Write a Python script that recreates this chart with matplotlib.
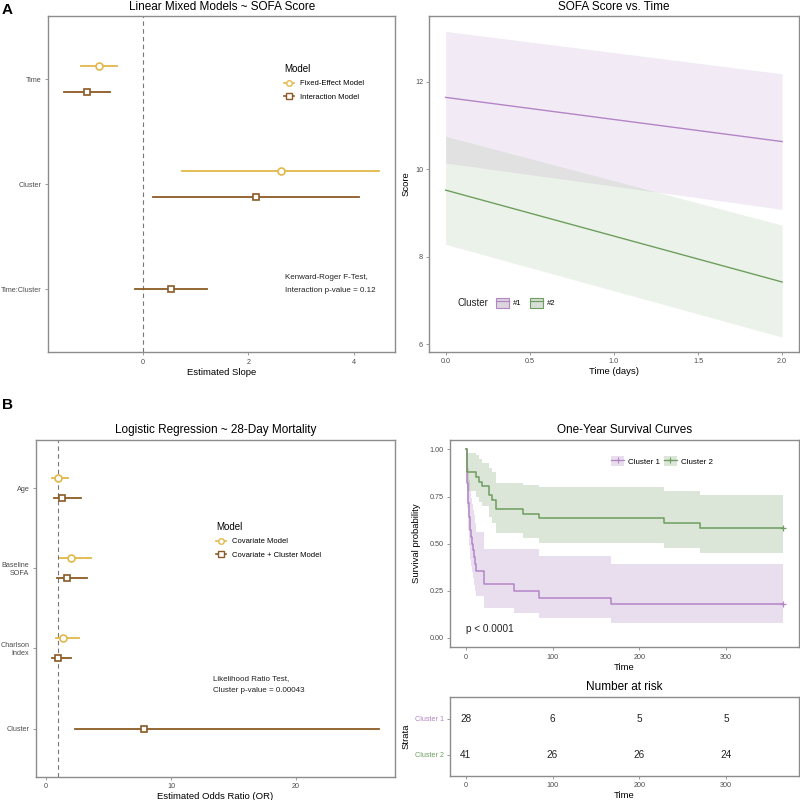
import numpy as np
import matplotlib
matplotlib.use("Agg")
import matplotlib.pyplot as plt
from matplotlib.lines import Line2D
from matplotlib.patches import Patch

plt.rcParams['font.family'] = ['Liberation Sans', 'DejaVu Sans']

# ---- data ----
# A left: linear mixed models (estimate, lower, upper)
lmm_terms = ["Time", "Cluster", "Time:Cluster"]
lmm_fixed_est = [-0.83, 2.61, None]
lmm_fixed_lo = [-1.17, 0.75, None]
lmm_fixed_hi = [-0.49, 4.47, None]
lmm_inter_est = [-1.05, 2.14, 0.535]
lmm_inter_lo = [-1.48, 0.19, -0.15]
lmm_inter_hi = [-0.62, 4.09, 1.22]

# A right: predicted SOFA score vs time
sofa_time = [0.0, 2.0]
c1_fit = [11.64, 10.63]
c1_lo = [10.14, 9.08]
c1_hi = [13.15, 12.18]
c2_fit = [9.52, 7.42]
c2_lo = [8.28, 6.16]
c2_hi = [10.75, 8.72]

# B left: logistic regression odds ratios
lr_terms = ["Age", "Baseline\nSOFA", "Charlson\nIndex", "Cluster"]
lr_cov_est = [0.93, 2.0, 1.39, None]
lr_cov_lo = [0.5, 1.12, 0.77, None]
lr_cov_hi = [1.79, 3.63, 2.64, None]
lr_cc_est = [1.31, 1.68, 0.96, 7.87]
lr_cc_lo = [0.64, 0.91, 0.51, 2.35]
lr_cc_hi = [2.77, 3.25, 1.97, 26.6]

# B right: Kaplan-Meier curves
t_end = 366
km1_t = [0, 1, 2, 3, 4, 5, 6, 7, 8, 9, 10, 12, 21, 55, 84, 167]
km1_s = [1.0, 0.821, 0.786, 0.714, 0.643, 0.571, 0.536, 0.5, 0.464, 0.429, 0.393, 0.357, 0.286, 0.25, 0.214, 0.179]
km1_hi = [1.0, 0.98, 0.96, 0.90, 0.84, 0.78, 0.74, 0.71, 0.68, 0.65, 0.61, 0.56, 0.47, 0.47, 0.435, 0.393]
km1_lo = [1.0, 0.69, 0.65, 0.57, 0.49, 0.42, 0.38, 0.35, 0.32, 0.28, 0.25, 0.22, 0.16, 0.13, 0.105, 0.08]
km2_t = [0, 1, 12, 15, 19, 27, 30, 35, 66, 84, 228, 270]
km2_s = [1.0, 0.878, 0.854, 0.829, 0.805, 0.756, 0.732, 0.683, 0.659, 0.634, 0.610, 0.585]
km2_hi = [1.0, 0.98, 0.97, 0.95, 0.93, 0.90, 0.88, 0.82, 0.81, 0.80, 0.78, 0.76]
km2_lo = [1.0, 0.78, 0.75, 0.72, 0.70, 0.64, 0.61, 0.555, 0.53, 0.503, 0.476, 0.453]

risk_times = [0, 100, 200, 300]
risk_c1 = [28, 6, 5, 5]
risk_c2 = [41, 26, 26, 24]

# ---- style ----
gold = "#E2B84A"
brown = "#8B5A24"
purple = "#B384C6"
green = "#6E9E5E"
frame = "#8C8C8C"
tickc = "#4D4D4D"

fig = plt.figure(figsize=(8, 8), dpi=100)


def box(l, t, r, b):
    return [l / 800, 1 - b / 800, (r - l) / 800, (b - t) / 800]


def style(ax):
    for s in ax.spines.values():
        s.set_color(frame)
        s.set_linewidth(1.0)
    ax.tick_params(direction="out", length=2.5, width=0.6, color=frame,
                   labelcolor=tickc, labelsize=5.2, pad=2)


def forest(ax, y, est_a, lo_a, hi_a, est_b, lo_b, hi_b):
    # two models dodged around each row; a row with one model sits on the tick
    for yy, ea, la, ha, eb, lb, hb in zip(y, est_a, lo_a, hi_a, est_b, lo_b, hi_b):
        both = ea is not None and eb is not None
        for e, l, h, c, m, off in [(ea, la, ha, gold, "o", 0.125),
                                   (eb, lb, hb, brown, "s", -0.125)]:
            if e is None:
                continue
            yv = yy + (off if both else 0)
            ax.plot([l, h], [yv, yv], color=c, lw=1.3, zorder=2)
            ax.plot([e], [yv], marker=m, ms=5, mfc="white", mec=c,
                    mew=1.2, zorder=3, ls="none")


# ---- A left ----
ax1 = fig.add_axes(box(48.3, 16, 395, 352.3))
style(ax1)
ypos = np.arange(len(lmm_terms))[::-1] + 1.0
ax1.axvline(0, color="#777777", lw=0.8, ls=(0, (4, 3)), zorder=1)
forest(ax1, ypos, lmm_fixed_est, lmm_fixed_lo, lmm_fixed_hi,
       lmm_inter_est, lmm_inter_lo, lmm_inter_hi)
ax1.set_xlim(-1.78, 4.77)
ax1.set_ylim(0.4, 3.6)
ax1.set_yticks(ypos)
ax1.set_yticklabels(lmm_terms)
ax1.set_xticks([0, 2, 4])
ax1.set_xlabel("Estimated Slope", fontsize=6.8, labelpad=1.5)
ax1.set_title("Linear Mixed Models ~ SOFA Score", fontsize=8.5, pad=4)
h1 = [Line2D([], [], color=gold, lw=1.2, marker="o", ms=4, mfc="white", mew=1),
      Line2D([], [], color=brown, lw=1.2, marker="s", ms=4, mfc="white", mew=1)]
lg = ax1.legend(h1, ["Fixed-Effect Model", "Interaction Model"], loc="upper left",
                bbox_to_anchor=(277.5 / 800, 1 - 57.5 / 800), bbox_transform=fig.transFigure,
                frameon=False, title="Model", fontsize=5.5, title_fontsize=7,
                handlelength=1.3, handletextpad=0.8, labelspacing=0.75)
lg._legend_box.align = "left"
fig.text(285 / 800, 1 - 278 / 800, "Kenward-Roger F-Test,", fontsize=5.8, va="center",
         color="#222222")
fig.text(285 / 800, 1 - 290.5 / 800, "Interaction p-value = 0.12", fontsize=5.8,
         va="center", color="#222222")
fig.text(2 / 800, 1 - 10 / 800, "A", fontsize=11, fontweight="bold", va="center")

# ---- A right ----
ax2 = fig.add_axes(box(429.3, 16, 799, 352))
style(ax2)
ax2.fill_between(sofa_time, c1_lo, c1_hi, color="#9C6BB3", alpha=0.13, lw=0)
ax2.fill_between(sofa_time, c2_lo, c2_hi, color="#6A9E58", alpha=0.13, lw=0)
ax2.plot(sofa_time, c1_fit, color=purple, lw=1.0)
ax2.plot(sofa_time, c2_fit, color=green, lw=1.0)
ax2.set_xlim(-0.097, 2.1)
ax2.set_ylim(5.82, 13.5)
ax2.set_xticks([0.0, 0.5, 1.0, 1.5, 2.0])
ax2.set_yticks([6, 8, 10, 12])
ax2.set_xlabel("Time (days)", fontsize=6.8, labelpad=1.5)
ax2.set_ylabel("Score", fontsize=6.8, labelpad=3)
ax2.set_title("SOFA Score vs. Time", fontsize=8.5, pad=4)
h2 = [(Patch(facecolor=(0.86, 0.84, 0.87), edgecolor=purple, lw=0.8),
       Line2D([], [], color=purple, lw=0.9)),
      (Patch(facecolor=(0.85, 0.87, 0.85), edgecolor=green, lw=0.8),
       Line2D([], [], color=green, lw=0.9))]
fig.text(457 / 800, 1 - 302.7 / 800, "Cluster", fontsize=7, va="center", color="#222222")
ax2.legend(h2, ["#1", "#2"], loc="center left", ncol=2,
           bbox_to_anchor=(489 / 800, 1 - 302.7 / 800), bbox_transform=fig.transFigure,
           frameon=False, fontsize=5.5, handlelength=1.7, handleheight=1.6,
           handletextpad=0.6, columnspacing=1.0)

# ---- B left ----
ax3 = fig.add_axes(box(35.7, 440, 395, 776.7))
style(ax3)
ypos3 = np.arange(len(lr_terms))[::-1] + 1.0
ax3.axvline(1, color="#777777", lw=0.8, ls=(0, (4, 3)), zorder=1)
forest(ax3, ypos3, lr_cov_est, lr_cov_lo, lr_cov_hi, lr_cc_est, lr_cc_lo, lr_cc_hi)
ax3.set_xlim(-0.82, 27.9)
ax3.set_ylim(0.4, 4.6)
ax3.set_yticks(ypos3)
ax3.set_yticklabels(lr_terms, ha="right")
ax3.set_xticks([0, 10, 20])
ax3.set_xlabel("Estimated Odds Ratio (OR)", fontsize=6.8, labelpad=1.5)
ax3.set_title("Logistic Regression ~ 28-Day Mortality", fontsize=8.5, pad=5)
lg3 = ax3.legend(h1, ["Covariate Model", "Covariate + Cluster Model"], loc="upper left",
                 bbox_to_anchor=(209.5 / 800, 1 - 515.5 / 800), bbox_transform=fig.transFigure,
                 frameon=False, title="Model", fontsize=5.5, title_fontsize=7,
                 handlelength=1.3, handletextpad=0.8, labelspacing=0.75)
lg3._legend_box.align = "left"
fig.text(212.7 / 800, 1 - 678.7 / 800, "Likelihood Ratio Test,", fontsize=5.8,
         va="center", color="#222222")
fig.text(212.7 / 800, 1 - 690.7 / 800, "Cluster p-value = 0.00043", fontsize=5.8,
         va="center", color="#222222")
fig.text(2 / 800, 1 - 405 / 800, "B", fontsize=11, fontweight="bold", va="center")

# ---- B right: survival ----
ax4 = fig.add_axes(box(450, 440, 799, 647.3))
style(ax4)
for t, s, lo, hi, c, fc in [(km1_t, km1_s, km1_lo, km1_hi, purple, "#9C6BB3"),
                            (km2_t, km2_s, km2_lo, km2_hi, green, "#5E8F4E")]:
    tt = list(t) + [t_end]
    ax4.fill_between(tt, list(lo) + [lo[-1]], list(hi) + [hi[-1]], step="post",
                     color=fc, alpha=0.22, lw=0)
    ax4.step(tt, list(s) + [s[-1]], where="post", color=c, lw=1.1)
    ax4.plot([t_end], [s[-1]], marker="+", color=c, ms=4, mew=0.9)
ax4.set_xlim(-18.3, 384.3)
ax4.set_ylim(-0.05, 1.05)
ax4.set_xticks([0, 100, 200, 300])
ax4.set_yticks([0, 0.25, 0.5, 0.75, 1.0])
ax4.set_yticklabels(["0.00", "0.25", "0.50", "0.75", "1.00"])
ax4.set_xlabel("Time", fontsize=6.8, labelpad=1.5)
ax4.set_ylabel("Survival probability", fontsize=6.8, labelpad=6)
ax4.set_title("One-Year Survival Curves", fontsize=8.5, pad=5)
ax4.text(0, 0.048, "p < 0.0001", fontsize=7.2, va="center", ha="left", color="#222222")
h4 = [(Patch(facecolor="#9C6BB3", alpha=0.22, lw=0),
       Line2D([], [], color=purple, lw=0.9, marker="+", ms=4, mew=0.8)),
      (Patch(facecolor="#5E8F4E", alpha=0.22, lw=0),
       Line2D([], [], color=green, lw=0.9, marker="+", ms=4, mew=0.8))]
ax4.legend(h4, ["Cluster 1", "Cluster 2"], loc="center",
           bbox_to_anchor=(662 / 800, 1 - 461 / 800), bbox_transform=fig.transFigure,
           ncol=2, frameon=False, fontsize=5.8, handlelength=1.7, handleheight=1.5,
           handletextpad=0.5, columnspacing=0.4)

# ---- risk table ----
ax5 = fig.add_axes(box(450, 697.3, 799, 776))
style(ax5)
ax5.set_xlim(-18.3, 384.3)
ax5.set_ylim(0.4, 2.6)
for x, a, b in zip(risk_times, risk_c1, risk_c2):
    ax5.text(x, 2, str(a), ha="center", va="center", fontsize=7.2, color="#222222")
    ax5.text(x, 1, str(b), ha="center", va="center", fontsize=7.2, color="#222222")
ax5.set_xticks(risk_times)
ax5.set_yticks([2, 1])
ax5.set_yticklabels(["Cluster 1", "Cluster 2"])
for lab, c in zip(ax5.get_yticklabels(), [purple, green]):
    lab.set_color(c)
ax5.set_xlabel("Time", fontsize=6.8, labelpad=1.5)
ax5.set_ylabel("Strata", fontsize=6.8, labelpad=3)
ax5.set_title("Number at risk", fontsize=8.5, pad=5)

fig.savefig("out.png", dpi=100, facecolor="white")
